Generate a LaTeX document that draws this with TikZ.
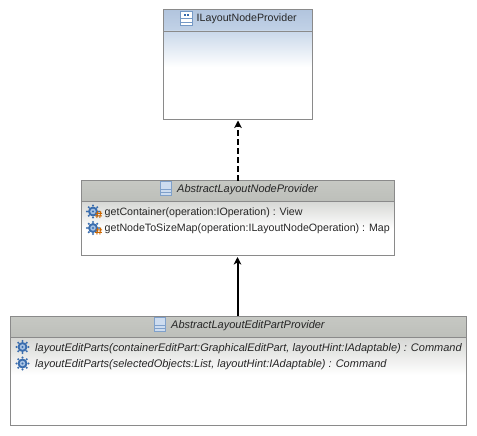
\documentclass[tikz,border=0pt]{standalone}
\usepackage{fontspec}
\setmainfont{Liberation Sans}
\usetikzlibrary{arrows.meta}
\definecolor{edge}{HTML}{8A8A8A}
\definecolor{hblueT}{HTML}{B2C5DE}
\definecolor{hblueB}{HTML}{C2D2E7}
\definecolor{bblue}{HTML}{C9D8EA}
\definecolor{hgreyT}{HTML}{C6C8C3}
\definecolor{hgreyB}{HTML}{BDBFBA}
\definecolor{bgrey}{HTML}{D6D7D4}
\definecolor{gearblue}{HTML}{3A6DAE}
\definecolor{iconblue}{HTML}{8FB2DC}
\tikzset{
  x=1pt,y=-1pt,
  boxframe/.style={draw=edge,line width=1pt,fill=none,inner sep=0pt,outer sep=0pt},
  grad/.style={inner sep=0pt,outer sep=0pt},
  title/.style={font=\fontsize{10.65}{12}\selectfont,inner sep=0pt,anchor=west,text=black!85},
  ititle/.style={font=\fontsize{11}{12}\selectfont\itshape,inner sep=0pt,anchor=west,text=black!85},
  link/.style={draw=black,line width=2pt,-{Stealth[length=7.5pt,width=7.5pt,inset=2pt]}},
}
\newcommand{\gearicon}[2]{%
  \begin{scope}[shift={(#1,#2)}]
    \fill[gearblue] (0,0) circle (5);
    \foreach \a in {0,45,...,315}{\fill[gearblue] (\a:6) circle (1.1);}
    \fill[iconblue!80!white] (0,0) circle (2.8);
    \fill[gearblue] (0,0) circle (1.2);
  \end{scope}}
\newcommand{\hashmark}[2]{%
  \begin{scope}[shift={(#1,#2)},line width=.9pt]
    \draw[orange!80!black] (-1.2,-3.5) -- (-2.2,3.5) (1.8,-3.5) -- (.8,3.5) (-3.5,-1.2) -- (3.2,-1.2) (-3.8,1.4) -- (2.9,1.4);
  \end{scope}}
\newcommand{\classicon}[2]{%
  \begin{scope}[shift={(#1,#2)}]
    \fill[iconblue!45!white] (-5.5,-7) rectangle (5.5,7);
    \draw[gearblue!65,line width=.8pt] (-5.5,-7) rectangle (5.5,7) (-5.5,1) -- (5.5,1) (-5.5,4) -- (5.5,4);
  \end{scope}}
\begin{document}
\begin{tikzpicture}
\useasboundingbox (0,0) rectangle (477,436);
\fill[white] (0,0) rectangle (477,436);
% interface box
\node[grad,minimum width=149pt,minimum height=21pt,top color=hblueT,bottom color=hblueB] (h1) at (238,20.5) {};
\node[grad,minimum width=149pt,minimum height=36pt,top color=bblue,bottom color=white] (g1) at (238,49) {};
\node[boxframe,minimum width=149pt,minimum height=109pt] (b1) at (238,64.5) {};
\draw[edge,line width=.8pt] (b1.west |- h1.south) -- (b1.east |- h1.south);
\begin{scope}[shift={(186.5,18.5)}]
  \fill[white] (-6,-7) rectangle (6,7);
  \draw[gearblue!70,line width=.8pt] (-6,-7) rectangle (6,7) (-6,0) -- (6,0) (-6,3.5) -- (6,3.5);
  \fill[gearblue] (-2.5,-4.8) rectangle (2.5,-2);
  \fill[white] (-.6,-4.8) rectangle (.6,-2);
\end{scope}
\node[title] (t1) at (196.5,19.2) {ILayoutNodeProvider};
% abstract node provider
\node[grad,minimum width=313pt,minimum height=21pt,top color=hgreyT,bottom color=hgreyB] (h2) at (237.5,190.5) {};
\node[grad,minimum width=313pt,minimum height=28pt,top color=bgrey,bottom color=white] (g2) at (237.5,215) {};
\node[boxframe,minimum width=313pt,minimum height=75pt] (b2) at (237.5,218) {};
\draw[edge,line width=.8pt] (b2.west |- h2.south) -- (b2.east |- h2.south);
\classicon{166}{188.5}
\node[ititle] (t2) at (177,189.3) {AbstractLayoutNodeProvider};
\gearicon{93}{211.5}\hashmark{99}{214.5}
\gearicon{93}{228}\hashmark{99}{231}
\node[title] (m21) at (104.5,212.8) {getContainer(operation:IOperation) : View};
\node[title] (m22) at (104.5,228.8) {getNodeToSizeMap(operation:ILayoutNodeOperation) : Map};
% abstract edit part provider
\node[grad,minimum width=456pt,minimum height=21pt,top color=hgreyT,bottom color=hgreyB] (h3) at (238,326.5) {};
\node[grad,minimum width=456pt,minimum height=38pt,top color=bgrey,bottom color=white] (g3) at (238,356) {};
\node[boxframe,minimum width=456pt,minimum height=109pt] (b3) at (238,370.5) {};
\draw[edge,line width=.8pt] (b3.west |- h3.south) -- (b3.east |- h3.south);
\classicon{160}{324.5}
\node[ititle] (t3) at (171,325.6) {AbstractLayoutEditPartProvider};
\gearicon{22.5}{347}
\gearicon{22.5}{363.5}
\node[ititle] (m31) at (35,348.4) {layoutEditParts(containerEditPart:GraphicalEditPart, layoutHint:IAdaptable) : Command};
\node[ititle] (m32) at (35,364.9) {layoutEditParts(selectedObjects:List, layoutHint:IAdaptable) : Command};
% connectors
\draw[link,dash pattern=on 6pt off 3pt,shorten >=1.5pt] (b2.north -| b1.south) -- (b1.south);
\draw[link,shorten >=1.5pt] (b3.north -| b2.south) -- (b2.south);
\end{tikzpicture}
\end{document}
